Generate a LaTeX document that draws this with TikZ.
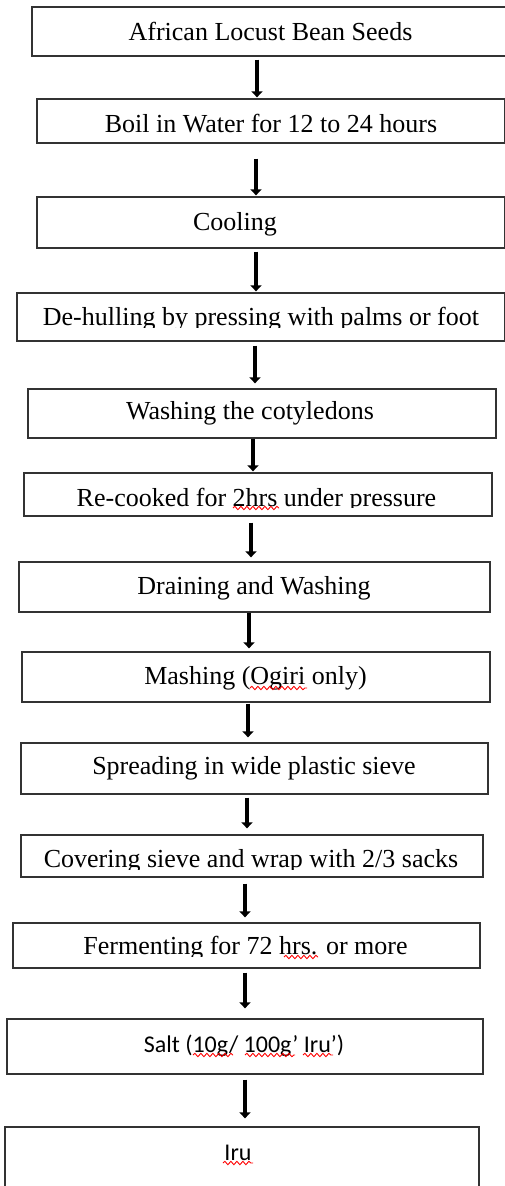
\documentclass[tikz,border=0pt]{standalone}
\usepackage{fontspec}
\setmainfont{Liberation Serif}
\newfontfamily\calfont{Carlito}
\usetikzlibrary{arrows.meta,decorations.pathmorphing}
\begin{document}
\begin{tikzpicture}[x=1pt,y=-1pt,
  box/.style={draw=black!80,line width=1.3pt,inner sep=0pt},
  txt/.style={inner sep=0pt,anchor=base,font=\fontsize{26}{30}\selectfont},
  stxt/.style={inner sep=0pt,anchor=base,font=\calfont\fontsize{24}{28}\selectfont},
  arr/.style={line width=3.8pt,-{Triangle[width=11pt,length=6pt]}},
  squig/.style={red,line width=0.9pt,decorate,decoration={snake,amplitude=1.7pt,segment length=6pt}}]
\useasboundingbox (0,0) rectangle (504,1186);
% boxes
\node[box,minimum width=476pt,minimum height=49pt] (b1) at (270,31.5) {};
\node[box,minimum width=468pt,minimum height=44pt] (b2) at (271,121) {};
\node[box,minimum width=468pt,minimum height=51pt] (b3) at (271,222.5) {};
\node[box,minimum width=488pt,minimum height=48pt] (b4) at (261,317) {};
\node[box,minimum width=468pt,minimum height=49pt] (b5) at (262,413.5) {};
\node[box,minimum width=468pt,minimum height=43pt] (b6) at (258,494.5) {};
\node[box,minimum width=471pt,minimum height=50pt] (b7) at (254.5,587) {};
\node[box,minimum width=468pt,minimum height=50pt] (b8) at (256,677) {};
\node[box,minimum width=467pt,minimum height=51pt] (b9) at (254.5,768.5) {};
\node[box,minimum width=462pt,minimum height=42pt] (b10) at (252,856) {};
\node[box,minimum width=467pt,minimum height=45pt] (b11) at (246.5,945.5) {};
\node[box,minimum width=476pt,minimum height=55pt] (b12) at (245,1046.5) {};
\node[box,minimum width=474pt,minimum height=68pt] (b13) at (242,1161) {};
% texts
\node[txt] (t1) at (270.5,40) {African Locust Bean Seeds};
\node[txt] (t2) at (271,132) {Boil in Water for 12 to 24 hours};
\node[txt] (t3) at (235,230) {Cooling};
\begin{scope}
\clip (0,293) rectangle (504,327);
\node[txt] (t4) at (261,325) {De-hulling by pressing with palms or foot};
\end{scope}
\node[txt] (t5) at (250,419) {Washing the cotyledons};
\begin{scope}
\clip (0,473) rectangle (504,507.5);
\node[txt] (t6) at (256.5,506) {Re-cooked for 2hrs under pressure};
\end{scope}
\node[txt] (t7) at (254,594) {Draining and Washing};
\node[txt] (t8) at (255.5,684) {Mashing (Ogiri only)};
\node[txt] (t9) at (254,774) {Spreading in wide plastic sieve};
\begin{scope}
\clip (0,835) rectangle (504,869);
\node[txt] (t10) at (251,867) {Covering sieve and wrap with 2/3 sacks};
\end{scope}
\begin{scope}
\clip (0,923) rectangle (504,956);
\node[txt] (t11) at (245.5,954) {Fermenting for 72 hrs. or more};
\end{scope}
\node[stxt] (t12) at (244,1052) {Salt (10g/ 100g’ Iru’)};
\node[stxt] (t13) at (238,1160) {Iru};
% spell-check squiggles
\draw[squig] (233,508) -- (279,508);
\draw[squig] (250,688) -- (307,688);
\draw[squig] (284,957) -- (318,957);
\draw[squig] (193,1055) -- (233,1055);
\draw[squig] (245,1055) -- (295,1055);
\draw[squig] (303,1055) -- (333,1055);
\draw[squig] (223,1163) -- (253,1163);
% arrows
\draw[arr,shorten <=3pt,shorten >=1pt] (b1.south -| 257,0) -- (b2.north -| 257,0);
\draw[arr,shorten <=15pt,shorten >=1pt] (b2.south -| 256,0) -- (b3.north -| 256,0);
\draw[arr,shorten <=3pt,shorten >=1pt] (b3.south -| 256,0) -- (b4.north -| 256,0);
\draw[arr,shorten <=4pt,shorten >=5pt] (b4.south -| 255,0) -- (b5.north -| 255,0);
\draw[arr,shorten <=0pt,shorten >=1pt] (b5.south -| 253,0) -- (b6.north -| 253,0);
\draw[arr,shorten <=6pt,shorten >=4pt] (b6.south -| 251,0) -- (b7.north -| 251,0);
\draw[arr,shorten <=0pt,shorten >=3pt] (b7.south -| 249,0) -- (b8.north -| 249,0);
\draw[arr,shorten <=1pt,shorten >=5pt] (b8.south -| 248,0) -- (b9.north -| 248,0);
\draw[arr,shorten <=3pt,shorten >=6pt] (b9.south -| 247,0) -- (b10.north -| 247,0);
\draw[arr,shorten <=6pt,shorten >=5pt] (b10.south -| 245,0) -- (b11.north -| 245,0);
\draw[arr,shorten <=4pt,shorten >=10pt] (b11.south -| 245,0) -- (b12.north -| 245,0);
\draw[arr,shorten <=5pt,shorten >=8pt] (b12.south -| 245,0) -- (b13.north -| 245,0);
\end{tikzpicture}
\end{document}
